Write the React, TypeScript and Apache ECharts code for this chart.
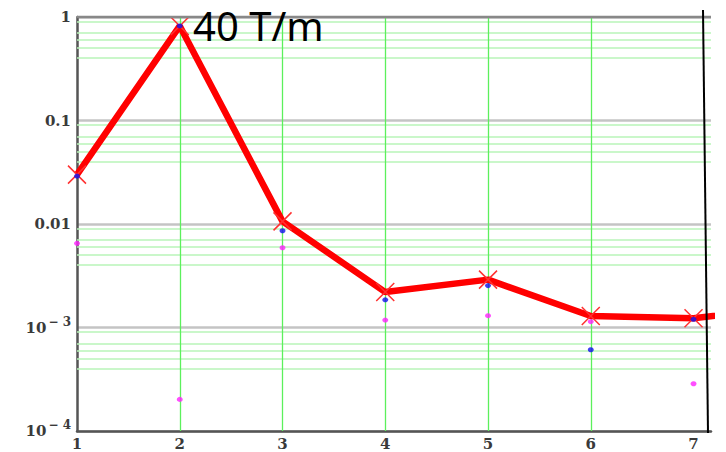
import React, { useEffect, useRef } from "react";
import * as echarts from "echarts";

const xValues = [1, 2, 3, 4, 5, 6, 7, 8];
const redValues = [0.030, 0.82, 0.0106, 0.0022, 0.0029, 0.00129, 0.00123, 0.0016];
const blueValues = [0.029, 0.82, 0.0086, 0.00185, 0.00254, 0.00061, 0.0012];
const magentaValues = [0.0065, 0.000202, 0.0059, 0.00118, 0.0013, 0.00114, 0.000286];
const verticalGrid = [2, 3, 4, 5, 6];
const decadeStarts = [1e-4, 1e-3, 1e-2, 1e-1];
const minorFractions = [9, 7, 6, 5, 4];
const xMin = 1;
const xMax = 7.17;
const yMin = 1e-4;
const yMax = 1;
const title = "40 T/m";

const yLabel = (v: number) => {
  const e = Math.round(Math.log10(v));
  if (e === 0) return "{n|1}";
  if (e === -1) return "{n|0.1}";
  if (e === -2) return "{n|0.01}";
  return `{n|10}{s|− ${-e}}`;
};

export default function App() {
  const ref = useRef<HTMLDivElement>(null);
  useEffect(() => {
    const chart = echarts.init(ref.current!, null, { renderer: "svg" });
    const minorLines: any[] = [];
    decadeStarts.forEach((d) =>
      minorFractions.forEach((f) =>
        minorLines.push({ coords: [[xMin, d * f], [xMax, d * f]] })
      )
    );
    const vLines = verticalGrid.map((x) => ({ coords: [[x, yMin], [x, yMax]] }));
    const labelFont = {
      color: "#3a3a3a",
      fontFamily: "DejaVu Serif",
      fontWeight: "bold",
    };
    chart.setOption({
      animation: false,
      backgroundColor: "#ffffff",
      grid: { left: 77, right: 15, top: 17, bottom: 21, containLabel: false },
      xAxis: {
        type: "value",
        min: xMin,
        max: xMax,
        interval: 1,
        axisLine: { show: true, lineStyle: { color: "#555", width: 2.5 } },
        axisTick: { show: false },
        splitLine: { show: false },
        axisLabel: {
          ...labelFont,
          fontSize: 15,
          margin: 5,
          formatter: (v: number) => (v > 7 ? "" : String(v)),
        },
      },
      yAxis: {
        type: "log",
        logBase: 10,
        min: yMin,
        max: yMax,
        axisLine: { show: true, onZero: false, lineStyle: { color: "#555", width: 2.5 } },
        axisTick: { show: false },
        splitLine: { show: true, lineStyle: { color: "#c4c4c4", width: 2.5 } },
        axisLabel: {
          margin: 6,
          formatter: yLabel,
          rich: {
            n: { ...labelFont, fontSize: 15 },
            s: { ...labelFont, fontSize: 12, padding: [0, 0, 12, 2] },
          },
        },
      },
      graphic: [
        {
          type: "line",
          shape: { x1: 77, y1: 17, x2: 711, y2: 17 },
          style: { stroke: "#888", lineWidth: 2.5 },
          z: 5,
        },
        {
          type: "line",
          shape: { x1: 703, y1: 10, x2: 708, y2: 433 },
          style: { stroke: "#000", lineWidth: 2 },
          z: 20,
        },
        {
          type: "text",
          left: 193,
          top: 5,
          style: {
            text: title,
            fontFamily: "Noto Sans",
            fontSize: 40,
            fill: "#000",
          },
          z: 20,
        },
      ],
      series: [
        {
          type: "lines",
          coordinateSystem: "cartesian2d",
          silent: true,
          lineStyle: { color: "#b8f5b8", width: 1.5, opacity: 1 },
          data: minorLines,
          z: 1,
        },
        {
          type: "lines",
          coordinateSystem: "cartesian2d",
          silent: true,
          lineStyle: { color: "#5cf05c", width: 1.3, opacity: 1 },
          data: vLines,
          z: 1,
        },
        {
          type: "line",
          data: xValues.map((x, i) => [x, redValues[i]]),
          clip: true,
          lineStyle: { color: "#ff0000", width: 6.5 },
          symbol: "path://M0,0L10,10M10,0L0,10",
          symbolSize: 18,
          showSymbol: true,
          itemStyle: { color: "rgba(0,0,0,0)", borderColor: "#ff3030", borderWidth: 1.5 },
          z: 3,
        },
        {
          type: "scatter",
          data: blueValues.map((v, i) => [xValues[i], v]),
          symbol: "circle",
          symbolSize: [6, 5],
          itemStyle: { color: "#1010ee" },
          z: 4,
        },
        {
          type: "scatter",
          data: magentaValues.map((v, i) => [xValues[i], v]),
          symbol: "circle",
          symbolSize: [6, 5],
          itemStyle: { color: "#ff22ff" },
          z: 4,
        },
      ],
    });
    return () => chart.dispose();
  }, []);
  return (
    <div
      ref={ref}
      style={{ position: "absolute", left: 0, top: 0, width: 726, height: 452 }}
    />
  );
}
